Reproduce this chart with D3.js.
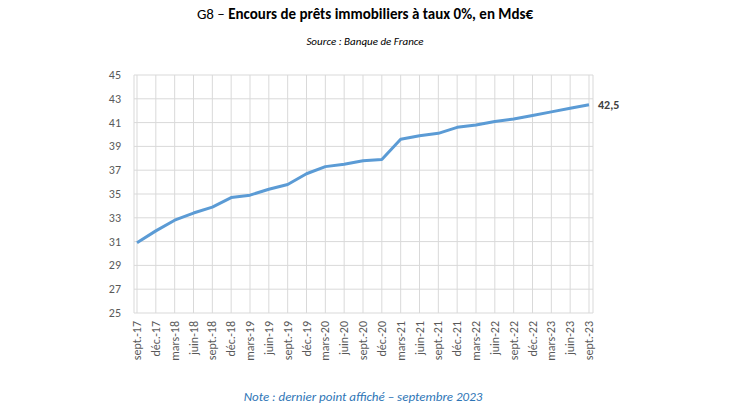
<!DOCTYPE html>
<html><head><meta charset="utf-8">
<script src="https://cdn.jsdelivr.net/npm/d3@7"></script>
<style>body{margin:0;background:#fff;font-family:Calibri,Carlito,"Liberation Sans",sans-serif}</style>
</head><body><div id="viz"></div>
<script>
var categories = ['sept.-17','déc.-17','mars-18','juin-18','sept.-18','déc.-18','mars-19','juin-19','sept.-19','déc.-19','mars-20','juin-20','sept.-20','déc.-20','mars-21','juin-21','sept.-21','déc.-21','mars-22','juin-22','sept.-22','déc.-22','mars-23','juin-23','sept.-23'];
var values = [30.9,31.9,32.8,33.4,33.9,34.7,34.9,35.4,35.8,36.7,37.3,37.5,37.8,37.9,39.6,39.9,40.1,40.6,40.8,41.1,41.3,41.6,41.9,42.2,42.5];
var yTicks = [25,27,29,31,33,35,37,39,41,43,45];

var svg = d3.select('#viz').append('svg').attr('width',730).attr('height',410);

var x = d3.scalePoint().domain(categories).range([137,589]);
var y = d3.scaleLinear().domain([25,45]).range([313,75]);

// grid
svg.selectAll('.hg').data(yTicks).enter().append('line')
    .attr('x1',134).attr('x2',593)
    .attr('y1',d=>y(d)).attr('y2',d=>y(d))
    .style('stroke','#d9d9d9');
svg.selectAll('.vg').data(categories).enter().append('line')
    .attr('x1',d=>x(d)).attr('x2',d=>x(d))
    .attr('y1',y(45)).attr('y2',y(25))
    .style('stroke','#d9d9d9');
svg.append('line').attr('x1',134).attr('x2',134).attr('y1',y(45)).attr('y2',y(25)).style('stroke','#d9d9d9');
svg.append('line').attr('x1',593).attr('x2',593).attr('y1',y(45)).attr('y2',y(25)).style('stroke','#d9d9d9');

// y labels
svg.selectAll('.yl').data(yTicks).enter().append('text')
    .attr('x',121).attr('y',d=>y(d)+4)
    .attr('text-anchor','end').style('font-size','12px').style('fill','#595959')
    .text(d=>d);

// x labels
svg.selectAll('.xl').data(categories).enter().append('text')
    .attr('transform',d=>'translate('+(x(d)+4)+',321) rotate(-90)')
    .attr('text-anchor','end').style('font-size','12px').style('fill','#595959')
    .text(d=>d);

// line
svg.append('path').datum(values)
    .attr('d',d3.line().x((d,i)=>x(categories[i])).y(d=>y(d)))
    .style('fill','none').style('stroke','#5b9bd5').style('stroke-width',3)
    .style('stroke-linejoin','round');

var last = values.length-1;
svg.append('text').attr('x',x(categories[last])+9).attr('y',y(values[last])+4)
    .style('font-size','12px').style('font-weight','bold').style('fill','#404040')
    .text(String(values[last]).replace('.',','));

// titles
var t = svg.append('text').attr('x',365).attr('y',19).attr('text-anchor','middle')
    .style('font-size','15px').style('fill','#000');
t.append('tspan').text('G8 – ');
t.append('tspan').style('font-weight','bold').text('Encours de prêts immobiliers à taux 0%, en Mds€');
svg.append('text').attr('x',365).attr('y',45).attr('text-anchor','middle')
    .style('font-size','11px').style('font-style','italic').text('Source : Banque de France');
svg.append('text').attr('x',363).attr('y',401).attr('text-anchor','middle')
    .style('font-size','13px').style('font-style','italic').style('fill','#2e75b6')
    .text('Note : dernier point affiché – septembre 2023');
</script></body></html>
